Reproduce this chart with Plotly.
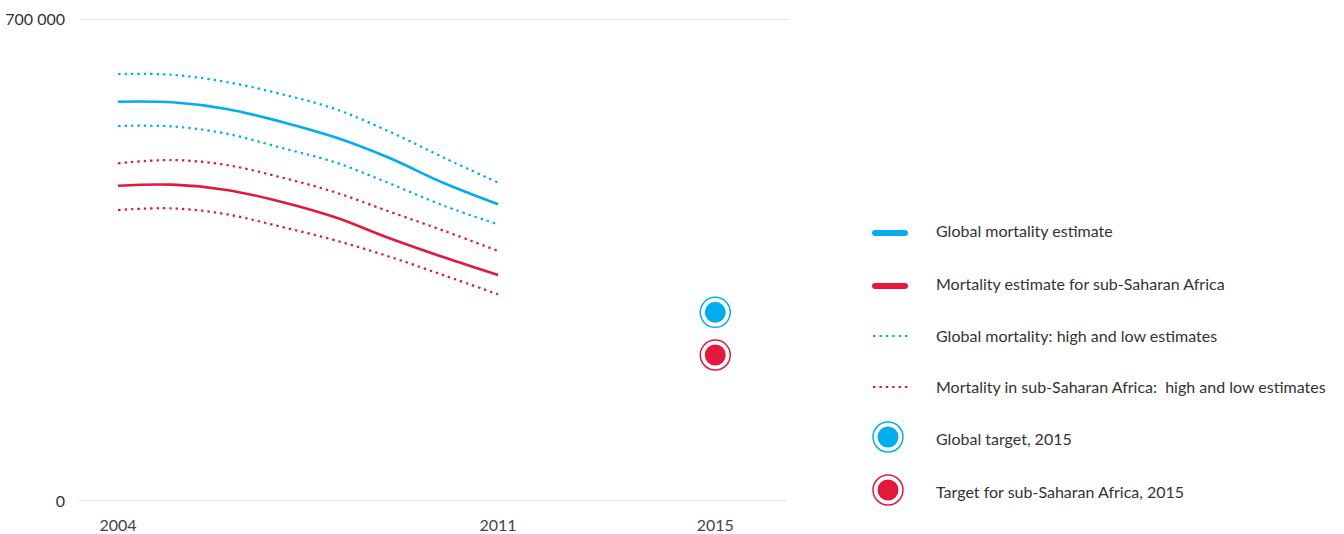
import plotly.graph_objects as go

# Estimated deaths per year
years = [2004, 2005, 2006, 2007, 2008, 2009, 2010, 2011]
global_est = [579900, 579000, 569300, 550900, 528200, 498100, 461800, 430900]
global_high = [620100, 619000, 608500, 591100, 569300, 536400, 498600, 462300]
global_low = [544600, 543900, 533500, 513100, 491800, 461300, 428900, 401800]
africa_est = [457900, 459400, 451700, 434700, 412000, 381500, 353900, 328200]
africa_high = [490400, 495200, 488000, 470100, 448300, 420200, 392600, 363100]
africa_low = [422600, 425000, 416400, 398400, 378600, 354800, 327800, 300200]

target_year = 2015
global_target = 274000
africa_target = 212000

x_tick_vals = [2004, 2011, 2015]
x_tick_text = ["2004", "2011", "2015"]
y_tick_vals = [0, 700000]
y_tick_text = ["0", "700 000"]

legend_labels = [
    "Global mortality estimate",
    "Mortality estimate for sub-Saharan Africa",
    "Global mortality: high and low estimates",
    "Mortality in sub-Saharan Africa:  high and low estimates",
    "Global target, 2015",
    "Target for sub-Saharan Africa, 2015",
]

BLUE = "#00AEEF"
RED = "#E2183D"
TEXT = "#333333"
FONT = "Lato"
FS = 16

W, H = 1344, 534
ML, MR, MT, MB = 80, W - 788, 19, H - 501


def px_x(px):
    return (px - ML) / (W - ML - MR)


def px_y(py):
    return (H - MB - py) / (H - MT - MB)


fig = go.Figure()

# Horizontal rules at the two labelled values
shapes = [
    dict(type="line", xref="paper", yref="y", x0=px_x(79), x1=px_x(786),
         y0=y_tick_vals[0], y1=y_tick_vals[0], line=dict(color="#d4d4d4", width=1.3), layer="below"),
    dict(type="line", xref="paper", yref="y", x0=px_x(81), x1=px_x(790),
         y0=y_tick_vals[1], y1=y_tick_vals[1], line=dict(color="#dcdcdc", width=1.3), layer="below"),
]

dot = "2.4px,4px"
for ys, color, dash, width in [
    (global_high, BLUE, dot, 2.2),
    (global_low, BLUE, dot, 2.2),
    (africa_high, RED, dot, 2.2),
    (africa_low, RED, dot, 2.2),
    (global_est, BLUE, "solid", 2.6),
    (africa_est, RED, "solid", 2.6),
]:
    fig.add_trace(go.Scatter(
        x=years, y=ys, mode="lines",
        line=dict(color=color, width=width, dash=dash, shape="spline", smoothing=1),
        showlegend=False, hoverinfo="skip", cliponaxis=False,
    ))

for val, color in [(global_target, BLUE), (africa_target, RED)]:
    fig.add_trace(go.Scatter(
        x=[target_year], y=[val], mode="markers",
        marker=dict(size=30, color="white", line=dict(color=color, width=1.5)),
        showlegend=False, hoverinfo="skip",
    ))
    fig.add_trace(go.Scatter(
        x=[target_year], y=[val], mode="markers",
        marker=dict(size=21, color=color, line=dict(width=0)),
        showlegend=False, hoverinfo="skip",
    ))

# Hand-built legend on the right
annotations = []
glyph_x = 890
text_x = 934
glyph_y = [233, 286, 336, 387, 437, 490]
text_y = [230, 283, 335, 386, 438, 491]

pill = ("M -15,-3 L 15,-3 C 16.7,-3 18,-1.7 18,0 C 18,1.7 16.7,3 15,3 "
        "L -15,3 C -16.7,3 -18,1.7 -18,0 C -18,-1.7 -16.7,-3 -15,-3 Z")
for i, color in enumerate([BLUE, RED]):
    shapes.append(dict(
        type="path", xref="paper", yref="paper",
        xsizemode="pixel", ysizemode="pixel",
        xanchor=px_x(glyph_x), yanchor=px_y(glyph_y[i]),
        path=pill, fillcolor=color, line=dict(width=0), layer="above",
    ))
for i, color in zip([2, 3], [BLUE, RED]):
    shapes.append(dict(
        type="line", xref="paper", yref="paper",
        x0=px_x(873), x1=px_x(908), y0=px_y(glyph_y[i]), y1=px_y(glyph_y[i]),
        line=dict(color=color, width=2.2, dash=dot),
    ))
for i, color in zip([4, 5], [BLUE, RED]):
    for r, fill, lw in [(15, "white", 1.5), (10.5, color, 0)]:
        shapes.append(dict(
            type="circle", xref="paper", yref="paper",
            xsizemode="pixel", ysizemode="pixel",
            xanchor=px_x(glyph_x - 2), yanchor=px_y(glyph_y[i]),
            x0=-r, x1=r, y0=-r, y1=r,
            fillcolor=fill, line=dict(color=color, width=lw),
        ))

for label, ty in zip(legend_labels, text_y):
    annotations.append(dict(
        text=label, xref="paper", yref="paper",
        x=px_x(text_x), y=px_y(ty), xanchor="left", yanchor="middle",
        showarrow=False, font=dict(family=FONT, size=FS, color=TEXT),
    ))

fig.update_layout(
    width=W, height=H,
    margin=dict(l=ML, r=MR, t=MT, b=MB, autoexpand=False),
    paper_bgcolor="white", plot_bgcolor="white",
    shapes=shapes, annotations=annotations,
    font=dict(family=FONT, size=FS, color=TEXT),
    xaxis=dict(
        range=[2003.3, 2016.34], tickvals=x_tick_vals, ticktext=x_tick_text,
        showgrid=False, zeroline=False, showline=False, automargin=False,
        ticklabelstandoff=13, tickfont=dict(family=FONT, size=FS, color="#444"),
        fixedrange=True,
    ),
    yaxis=dict(
        range=[0, 700000], tickvals=y_tick_vals, ticktext=y_tick_text,
        showgrid=False, zeroline=False, showline=False, automargin=False,
        ticklabelstandoff=14, tickfont=dict(family=FONT, size=FS, color="#333"),
        fixedrange=True,
    ),
)

fig.write_html("out.html")
